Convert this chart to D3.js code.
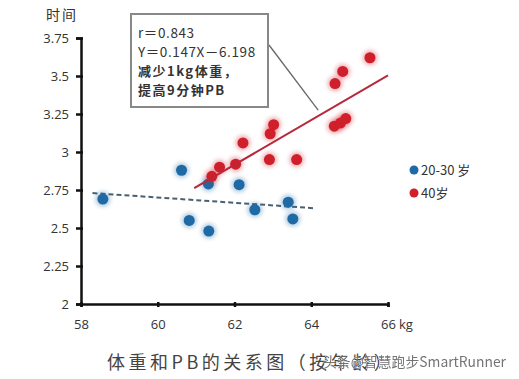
<!DOCTYPE html>
<html>
<head>
<meta charset="utf-8">
<script src="https://cdn.jsdelivr.net/npm/d3@7"></script>
<style>
  body { margin: 0; background: #fff; }
  .tick text { font-family: "Open Sans", "Liberation Sans", sans-serif; font-size: 13px; fill: #333; }
  .cn { font-family: "Noto Sans CJK SC", sans-serif; }
</style>
</head>
<body>
<div class="chart"></div>
<script>
// 20-30 岁
const youngKg = [58.57, 60.62, 60.82, 61.33, 61.32, 62.12, 62.53, 63.40, 63.52]
const youngTime = [2.69, 2.88, 2.55, 2.48, 2.79, 2.785, 2.62, 2.67, 2.56]
// 40岁
const oldKg = [61.41, 61.61, 62.03, 62.22, 62.93, 63.02, 62.91, 63.62, 64.60, 64.76, 64.90, 64.62, 64.82, 65.53]
const oldTime = [2.84, 2.90, 2.92, 3.06, 3.12, 3.18, 2.95, 2.95, 3.17, 3.19, 3.22, 3.45, 3.53, 3.62]
// trend lines: [x0, x1], [y0, y1]
const oldTrendKg = [60.95, 66]
const youngTrendKg = [58.3, 64.08]
const youngTrendTime = [2.73, 2.63]
const xTicks = [58, 60, 62, 64, 66]
const yTicks = [2, 2.25, 2.5, 2.75, 3, 3.25, 3.5, 3.75]
const legendLabels = ["20-30 岁", "40岁"]
const boxLines = ["r＝0.843", "Y＝0.147X－6.198", "减少1kg体重，", "提高9分钟PB"]

const width = 519, height = 379
const blue = "#1f6aa5", red = "#cf1f2b"

const svg = d3.select(".chart").append("svg")
    .attr("width", width)
    .attr("height", height)

const defs = svg.append("defs")
defs.append("filter").attr("id", "glow")
    .attr("x", "-50%").attr("y", "-50%").attr("width", "200%").attr("height", "200%")
  .append("feGaussianBlur").attr("stdDeviation", 2)

const x = d3.scaleLinear().domain([58, 66]).range([81, 388])
const y = d3.scaleLinear().domain([2, 3.75]).range([304, 38])

// axes
svg.append("g")
    .attr("transform", "translate(0,304)")
    .call(d3.axisBottom(x).tickValues(xTicks).tickSize(3).tickPadding(13).tickFormat(d3.format("d")))
    .call(g => g.select(".domain").attr("stroke", "#111").attr("stroke-width", 2.5))
    .call(g => g.selectAll(".tick line").attr("stroke", "#111").attr("stroke-width", 2.5).attr("y1", -2))

svg.append("text")
    .attr("x", x(66) + 11).attr("y", 329)
    .attr("font-family", "Open Sans, sans-serif").attr("font-size", 13).attr("fill", "#333")
    .text("kg")

svg.append("g")
    .attr("transform", "translate(81,0)")
    .call(d3.axisLeft(y).tickValues(yTicks).tickSize(5).tickPadding(7).tickFormat(d => d3.format("")(d)))
    .call(g => g.select(".domain").attr("stroke", "#111").attr("stroke-width", 2.5))
    .call(g => g.selectAll(".tick line").attr("stroke", "#111").attr("stroke-width", 2.5).attr("x1", 2))

svg.append("text").attr("class", "cn")
    .attr("x", 62).attr("y", 20).attr("text-anchor", "middle")
    .attr("font-size", 14).attr("fill", "#333").attr("letter-spacing", 2)
    .text("时间")

// young trend (dashed)
svg.append("line")
    .attr("x1", x(youngTrendKg[0])).attr("y1", y(youngTrendTime[0]))
    .attr("x2", x(youngTrendKg[1])).attr("y2", y(youngTrendTime[1]))
    .attr("stroke", "#4a6170").attr("stroke-width", 2).attr("stroke-dasharray", "5,3")

// points
function dots(xs, ys, color) {
  const data = xs.map((d, i) => [d, ys[i]])
  svg.append("g").selectAll("circle").data(data).join("circle")
      .attr("cx", d => x(d[0])).attr("cy", d => y(d[1])).attr("r", 7.5)
      .attr("fill", color).attr("opacity", 0.35).attr("filter", "url(#glow)")
  svg.append("g").selectAll("circle").data(data).join("circle")
      .attr("cx", d => x(d[0])).attr("cy", d => y(d[1])).attr("r", 5.5)
      .attr("fill", color)
}
dots(youngKg, youngTime, blue)
dots(oldKg, oldTime, red)

// old trend Y = 0.147X - 6.198
const fit = k => 0.147 * k - 6.198
svg.append("line")
    .attr("x1", x(oldTrendKg[0])).attr("y1", y(fit(oldTrendKg[0])))
    .attr("x2", x(oldTrendKg[1])).attr("y2", y(fit(oldTrendKg[1])))
    .attr("stroke", "#b8283a").attr("stroke-width", 2)

// callout
svg.append("line")
    .attr("x1", 269).attr("y1", 45)
    .attr("x2", x(64.18)).attr("y2", y(fit(64.18)) - 6)
    .attr("stroke", "#666").attr("stroke-width", 1.3)

svg.append("rect")
    .attr("x", 131).attr("y", 14).attr("width", 137).attr("height", 93)
    .attr("fill", "#fff").attr("stroke", "#888").attr("stroke-width", 2)

svg.append("g").selectAll("text").data(boxLines).join("text")
    .attr("class", "cn")
    .attr("x", 138).attr("y", (d, i) => [38, 57, 76, 95][i])
    .attr("font-size", (d, i) => i > 1 ? 13 : 13.5)
    .attr("font-weight", (d, i) => i > 1 ? "bold" : "normal")
    .attr("letter-spacing", (d, i) => i > 1 ? 1.5 : 0.6)
    .attr("fill", "#333")
    .text(d => d)

// legend
const legend = svg.append("g").attr("transform", "translate(414,170)")
legend.selectAll("circle").data([blue, red]).join("circle")
    .attr("cx", 0).attr("cy", (d, i) => i * 23).attr("r", 4.5).attr("fill", d => d)
legend.selectAll("text").data(legendLabels).join("text")
    .attr("class", "cn")
    .attr("x", 7).attr("y", (d, i) => i * 23 + 5)
    .attr("font-size", 13).attr("fill", "#333")
    .text(d => d)

// title
svg.append("text").attr("class", "cn")
    .attr("x", 107).attr("y", 369)
    .attr("font-size", 18).attr("letter-spacing", 3.5).attr("fill", "#444")
    .text("体重和PB的关系图（按年龄）")

svg.append("text").attr("class", "cn")
    .attr("x", 323).attr("y", 367)
    .attr("font-size", 14).attr("fill", "#666").attr("opacity", 0.9)
    .attr("textLength", 183).attr("lengthAdjust", "spacingAndGlyphs")
    .attr("stroke", "#fff").attr("stroke-width", 0.6).attr("paint-order", "stroke")
    .text("头条@智慧跑步SmartRunner")
</script>
</body>
</html>
